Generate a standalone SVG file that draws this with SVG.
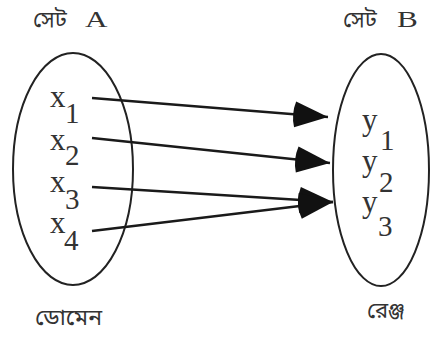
<svg xmlns="http://www.w3.org/2000/svg" width="431" height="337" viewBox="0 0 431 337">
<defs>
<marker id="ah" markerUnits="userSpaceOnUse" markerWidth="40" markerHeight="30" viewBox="-4 -15 40 30" refX="33" refY="0" orient="auto">
<path d="M0,-13 L33,0 L0,13 Q-4,0 0,-13 Z" fill="#111"/>
</marker>
</defs>
<style>
.set{fill:none;stroke:#222;stroke-width:2}
.lbl{font-family:'Liberation Serif','Times New Roman',serif;fill:#333}
.bn{font-family:'Noto Sans Bengali','Noto Serif Bengali','Lohit Bengali','Noto Sans',sans-serif;fill:#333}
.var{font-size:31px}
.sub{font-size:29px}
.ed{stroke:#1a1a1a;stroke-width:2.3;fill:none;marker-end:url(#ah)}
</style>
<rect width="431" height="337" fill="#fff"/>
<g id="setA">
<text class="bn" x="33" y="27" font-size="22">সেট</text>
<text class="lbl" x="85" y="27" font-size="24" transform="translate(85 27) scale(1.3 1) translate(-85 -27)">A</text>
<ellipse class="set" cx="73" cy="169" rx="60" ry="116"/>
<text class="lbl var" x="50" y="107">x</text><text class="lbl sub" x="65" y="123">1</text>
<text class="lbl var" x="50" y="150">x</text><text class="lbl sub" x="65" y="165">2</text>
<text class="lbl var" x="50" y="192">x</text><text class="lbl sub" x="65" y="209">3</text>
<text class="lbl var" x="50" y="233">x</text><text class="lbl sub" x="64" y="250">4</text>
<text class="bn" x="35" y="325" font-size="23">ডোমেন</text>
</g>
<g id="setB">
<text class="bn" x="343" y="27" font-size="22">সেট</text>
<text class="lbl" x="397" y="27" font-size="24" transform="translate(397 27) scale(1.3 1) translate(-397 -27)">B</text>
<ellipse class="set" cx="381" cy="170" rx="48" ry="116"/>
<text class="lbl var" x="362" y="130">y</text><text class="lbl sub" x="380" y="150">1</text>
<text class="lbl var" x="362" y="171">y</text><text class="lbl sub" x="379" y="192">2</text>
<text class="lbl var" x="362" y="212">y</text><text class="lbl sub" x="378" y="236">3</text>
<text class="bn" x="367" y="318" font-size="22">রেঞ্জ</text>
</g>
<g id="connectors">
<line class="ed" x1="92" y1="98" x2="328" y2="117"/>
<line class="ed" x1="92" y1="138" x2="330" y2="163"/>
<line class="ed" x1="92" y1="187" x2="333" y2="202"/>
<line class="ed" x1="92" y1="231" x2="333" y2="202"/>
</g>
</svg>
